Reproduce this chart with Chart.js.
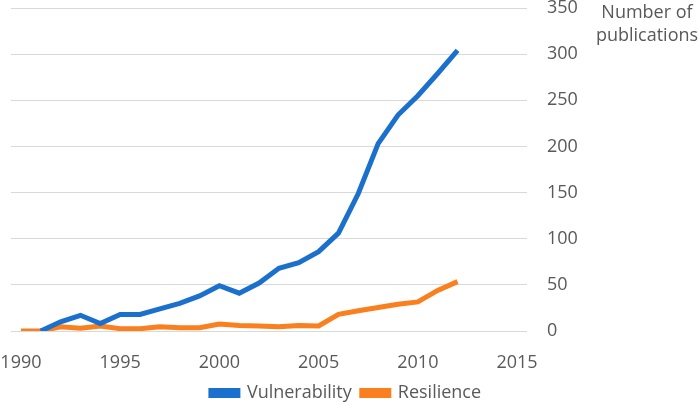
<!DOCTYPE html>
<html>
<head>
<meta charset="utf-8">
<script src="https://cdn.jsdelivr.net/npm/chart.js@4"></script>
<style>
  html, body { margin: 0; padding: 0; background: #fff; }
  #wrap { width: 699px; height: 405px; }
</style>
</head>
<body>
<div id="wrap"><canvas id="pubs"></canvas></div>
<script>
const years = [1990, 1991, 1992, 1993, 1994, 1995, 1996, 1997, 1998, 1999, 2000, 2001,
  2002, 2003, 2004, 2005, 2006, 2007, 2008, 2009, 2010, 2011, 2012];
const vulnerability = [null, 0, 10, 17, 8, 18, 18, 24, 30, 38, 49, 41,
  52, 68, 74, 86, 106, 149, 203, 234, 255, 279, 304];
const resilience = [0, 0, 4.5, 3, 5.5, 2.5, 2.5, 4.5, 3.5, 3.5, 7.5, 6,
  5.5, 4.5, 6, 5.5, 18, 22, 25.5, 29, 31.5, 44, 53.5];
const yTicks = [0, 50, 100, 150, 200, 250, 300, 350];
const axisTitle = ["Number of", "publications"];

const textColor = "#595959";
const fontFamily = "'Open Sans', 'Noto Sans', sans-serif";

function toPoints(values) {
  return years.map((yr, i) => ({ x: yr, y: values[i] }));
}

// two-line label at the top right, beside the value axis
const cornerTitle = {
  id: "cornerTitle",
  afterDraw(chart) {
    const ctx = chart.ctx;
    ctx.save();
    ctx.fillStyle = textColor;
    ctx.font = "18px " + fontFamily;
    ctx.textAlign = "center";
    ctx.textBaseline = "middle";
    const cx = chart.width - 52;
    axisTitle.forEach((line, i) => ctx.fillText(line, cx, 13 + i * 23));
    ctx.restore();
  }
};

Chart.defaults.font.family = fontFamily;
Chart.defaults.font.size = 18;
Chart.defaults.color = textColor;

new Chart(document.getElementById("pubs"), {
  type: "line",
  data: {
    datasets: [
      {
        label: "Vulnerability",
        data: toPoints(vulnerability),
        borderColor: "#1a70cc",
        backgroundColor: "#1a70cc",
        borderWidth: 5,
        pointRadius: 0,
        tension: 0
      },
      {
        label: "Resilience",
        data: toPoints(resilience),
        borderColor: "#fa7f1e",
        backgroundColor: "#fa7f1e",
        borderWidth: 5,
        pointRadius: 0,
        tension: 0
      }
    ]
  },
  options: {
    responsive: true,
    maintainAspectRatio: false,
    animation: false,
    layout: { padding: { left: 11, right: 18, top: 8, bottom: -7 } },
    plugins: {
      tooltip: { enabled: false },
      legend: {
        position: "bottom",
        labels: { boxWidth: 27, boxHeight: 5, padding: 10 }
      }
    },
    scales: {
      x: {
        type: "linear",
        min: 1989.5,
        max: 2015.5,
        grid: { display: false },
        border: { display: false },
        ticks: {
          stepSize: 5,
          includeBounds: false,
          padding: 13,
          maxRotation: 0,
          callback: (v) => String(v)
        },
        afterFit: (scale) => {
          scale.height = 43;
          scale.paddingLeft = 0;
          scale.paddingRight = 0;
        }
      },
      y: {
        position: "right",
        min: 0,
        max: 350,
        grid: { color: "#d9d9d9", lineWidth: 1, drawTicks: false },
        border: { display: false },
        afterBuildTicks: (scale) => { scale.ticks = yTicks.map((v) => ({ value: v })); },
        ticks: { padding: 20 },
        afterFit: (scale) => {
          scale.width = 154;
          scale.paddingTop = 0;
          scale.paddingBottom = 0;
        }
      }
    }
  },
  plugins: [cornerTitle]
});
</script>
</body>
</html>
